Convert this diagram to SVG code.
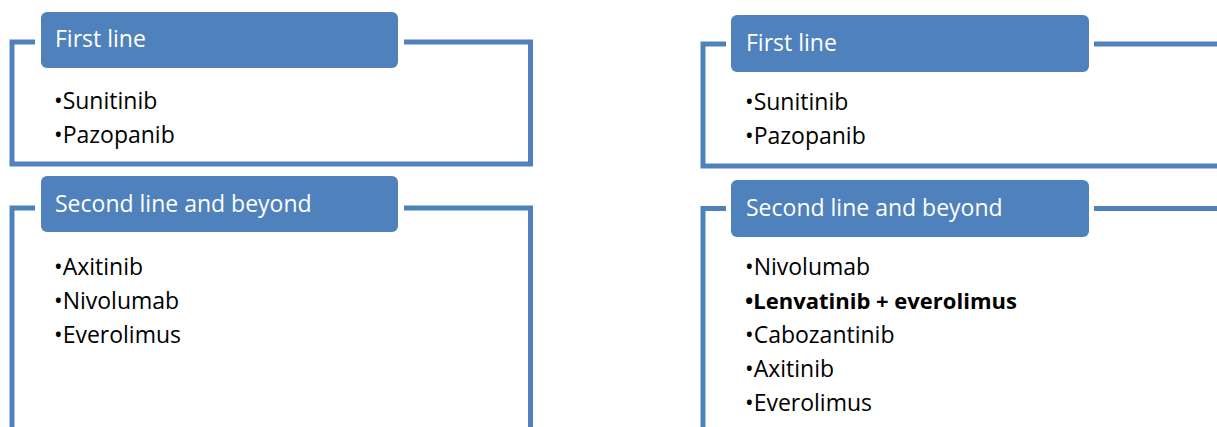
<svg xmlns="http://www.w3.org/2000/svg" width="1217" height="427" viewBox="0 0 1217 427">
<style>
.frame{fill:none;stroke:#4F81BD;stroke-width:5;stroke-linejoin:miter;stroke-linecap:butt}
.hdr{fill:#4F81BD}
.ht{font-family:"Open Sans","Liberation Sans",sans-serif;font-size:23px;fill:#FFFFFF}
.bt{font-family:"Open Sans","Liberation Sans",sans-serif;font-size:23px;fill:#000000}
.b{font-weight:bold;font-size:22px}
</style>
<rect width="1217" height="427" fill="#FFFFFF"/>
<g id="connectors">
<path class="frame" d="M35,42 H12 V164 H530.5 V42 H404"/>
<path class="frame" d="M35,208 H12 V432"/>
<path class="frame" d="M404,208 H530.5 V432"/>
<path class="frame" d="M726,44 H703 V166 H1222"/>
<path class="frame" d="M1094,44 H1222"/>
<path class="frame" d="M726,208.5 H703 V432"/>
<path class="frame" d="M1094,208.5 H1222"/>
</g>
<g id="left-first-line">
<rect class="hdr" x="41" y="12" width="357" height="56" rx="6"/>
<text class="ht" x="55" y="47">First line</text>
<text class="bt" x="54" y="109">•Sunitinib</text>
<text class="bt" x="54" y="143">•Pazopanib</text>
</g>
<g id="left-second-line">
<rect class="hdr" x="41" y="176" width="357" height="56" rx="6"/>
<text class="ht" x="55" y="212">Second line and beyond</text>
<text class="bt" x="54" y="275">•Axitinib</text>
<text class="bt" x="54" y="309">•Nivolumab</text>
<text class="bt" x="54" y="343">•Everolimus</text>
</g>
<g id="right-first-line">
<rect class="hdr" x="731" y="15" width="358" height="57" rx="6"/>
<text class="ht" x="746" y="51">First line</text>
<text class="bt" x="745" y="110">•Sunitinib</text>
<text class="bt" x="745" y="144">•Pazopanib</text>
</g>
<g id="right-second-line">
<rect class="hdr" x="731" y="180" width="358" height="57" rx="6"/>
<text class="ht" x="746" y="216">Second line and beyond</text>
<text class="bt" x="745" y="275">•Nivolumab</text>
<text class="bt b" x="745" y="309">•Lenvatinib + everolimus</text>
<text class="bt" x="745" y="343">•Cabozantinib</text>
<text class="bt" x="745" y="377">•Axitinib</text>
<text class="bt" x="745" y="411">•Everolimus</text>
</g>
</svg>
